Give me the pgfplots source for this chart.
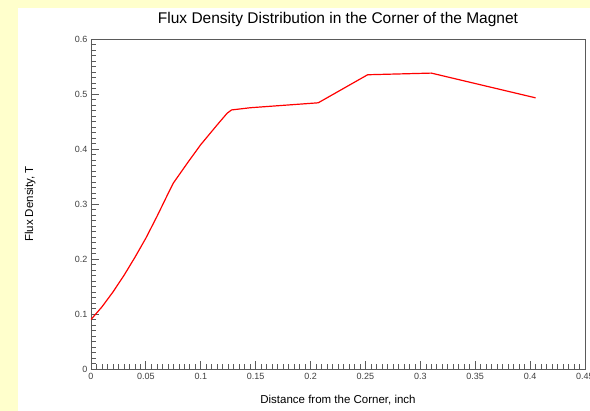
\documentclass[border=0pt]{standalone}
\usepackage{pgfplots}
\pgfplotsset{compat=1.18}
\usepackage{fontspec}
\setmainfont{Liberation Sans}
\definecolor{bgyellow}{HTML}{FFFFCC}
\definecolor{axgrey}{HTML}{5A5A5A}

\begin{document}
\begin{tikzpicture}
  \useasboundingbox (0pt,0pt) rectangle (590pt,411pt);
  \fill[bgyellow] (0pt,0pt) rectangle (590pt,411pt);
  \fill[white] (18pt,0pt) rectangle (590pt,403pt);
  \begin{axis}[
      at={(91pt,42pt)}, anchor=south west,
      scale only axis,
      width=494pt, height=330pt,
      xmin=0, xmax=0.45, ymin=0, ymax=0.6,
      xtick={0,0.05,0.1,0.15,0.2,0.25,0.3,0.35,0.4,0.45},
      xticklabels={0,0.05,0.1,0.15,0.2,0.25,0.3,0.35,0.4,0.45},
      ytick={0,0.1,0.2,0.3,0.4,0.5,0.6},
      yticklabels={0,0.1,0.2,0.3,0.4,0.5,0.6},
      minor tick num=9,
      tick align=inside,
      xtick pos=bottom, ytick pos=left,
      major tick length=8pt, minor tick length=4.5pt,
      axis line style={axgrey, line width=0.9pt},
      every tick/.style={axgrey, line width=0.8pt},
      every minor tick/.style={axgrey, line width=0.6pt},
      tick label style={font=\fontsize{9}{10}\selectfont, text=black!75},
      xticklabel style={yshift=-1pt},
      title={Flux Density Distribution in the Corner of the Magnet},
      title style={at={(axis description cs:0.5,1.042)}, anchor=center, font=\fontsize{15.5}{18}\selectfont},
      xlabel={Distance from the Corner, inch},
      xlabel style={at={(axis description cs:0.5,-0.094)}, anchor=center, font=\fontsize{11.5}{13}\selectfont},
      ylabel={Flux Density, T},
      ylabel style={at={(axis description cs:-0.123,0.5)}, anchor=center, font=\fontsize{11.5}{13}\selectfont},
    ]
    \addplot[red, line width=1.2pt, no marks] coordinates {
      (0,0.090) (0.010,0.113) (0.020,0.140) (0.030,0.170) (0.040,0.203)
      (0.050,0.238) (0.060,0.277) (0.070,0.318) (0.075,0.338) (0.088,0.375)
      (0.100,0.408) (0.115,0.444) (0.124,0.465) (0.128,0.471) (0.145,0.475)
      (0.207,0.484) (0.252,0.535) (0.310,0.538) (0.405,0.493)
    };
  \end{axis}
\end{tikzpicture}
\end{document}
